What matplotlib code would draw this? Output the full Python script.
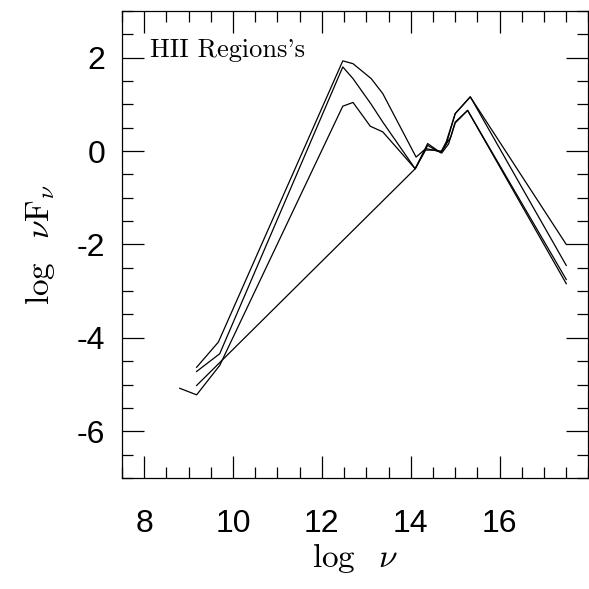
import matplotlib
matplotlib.use('Agg')
import matplotlib.pyplot as plt
from matplotlib.ticker import MultipleLocator, FixedLocator

plt.rcParams['mathtext.fontset'] = 'cm'

# SED curves (log nu, log nu F_nu)
x_a = [9.18, 9.67, 12.47, 12.70, 13.11, 13.37, 14.12, 14.30, 14.55, 14.68, 14.80, 15.00, 15.34, 17.50]
y_a = [-4.63, -4.09, 1.93, 1.87, 1.55, 1.23, -0.13, 0.02, 0.02, -0.02, 0.20, 0.80, 1.16, -2.00]

x_b = [9.18, 9.70, 12.47, 12.70, 13.11, 13.37, 14.10, 14.38, 14.68, 14.80, 15.00, 15.34, 17.50]
y_b = [-4.72, -4.34, 1.80, 1.55, 1.00, 0.62, -0.38, 0.16, -0.04, 0.15, 0.80, 1.16, -2.45]

x_c = [9.18, 14.10, 14.38, 14.60, 14.70, 14.85, 15.00, 15.28, 17.50]
y_c = [-5.02, -0.38, 0.12, 0.00, -0.04, 0.15, 0.60, 0.87, -2.84]

x_d = [8.80, 9.18, 9.70, 12.47, 12.70, 13.09, 13.37, 14.10, 14.35, 14.60, 14.70, 14.90, 15.00, 15.28, 17.50]
y_d = [-5.08, -5.22, -4.59, 0.96, 1.04, 0.53, 0.41, -0.38, 0.05, 0.00, 0.00, 0.30, 0.62, 0.87, -2.75]

x_ticks = [8, 10, 12, 14, 16]
y_ticks = [-6, -4, -2, 0, 2]

fig = plt.figure(figsize=(5.89, 5.89), dpi=100)
ax = fig.add_axes([0.2071, 0.1885, 0.792, 0.793])

for xs, ys in [(x_a, y_a), (x_b, y_b), (x_c, y_c), (x_d, y_d)]:
    ax.plot(xs, ys, color='black', lw=0.9)

ax.set_xlim(7.5, 18)
ax.set_ylim(-7, 3)
ax.xaxis.set_major_locator(FixedLocator(x_ticks))
ax.xaxis.set_minor_locator(MultipleLocator(0.5))
ax.yaxis.set_major_locator(FixedLocator(y_ticks))
ax.yaxis.set_minor_locator(MultipleLocator(0.5))

ax.tick_params(which='both', direction='in', top=True, right=True, width=0.9)
ax.tick_params(which='major', length=16)
ax.tick_params(which='minor', length=8)
ax.tick_params(axis='x', which='major', pad=22)
ax.tick_params(axis='y', which='major', pad=12)
ax.set_xticklabels([str(v) for v in x_ticks], fontfamily='Liberation Sans', fontsize=23)
ax.set_yticklabels([str(v) for v in y_ticks], fontfamily='Liberation Sans', fontsize=23)
for s in ax.spines.values():
    s.set_linewidth(0.9)

ax.set_xlabel(r'$\log\ \ \nu$', fontsize=24, labelpad=2)
ax.set_ylabel(r'$\log\ \ \nu\mathrm{F}_\nu$', fontsize=24, labelpad=14)

ax.text(0.06, 0.901, "HII Regions's", transform=ax.transAxes, fontfamily='cmr10',
        fontsize=19, va='baseline', ha='left')

fig.savefig('out.png', dpi=100)
